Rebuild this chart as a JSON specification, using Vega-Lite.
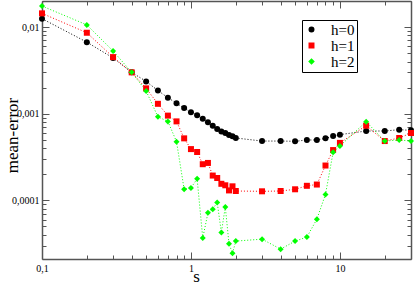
{
  "$schema": "https://vega.github.io/schema/vega-lite/v6.json",
  "width": 369,
  "height": 258,
  "autosize": "none",
  "padding": {"left": 42, "top": 1, "right": 4, "bottom": 25},
  "config": {
    "view": {"stroke": null},
    "font": "Liberation Serif",
    "axis": {
      "grid": false,
      "domainColor": "#555555",
      "domainWidth": 1.5,
      "tickColor": "#555555",
      "tickWidth": 1,
      "labelFont": "Liberation Serif",
      "labelFontSize": 10,
      "labelColor": "black",
      "titleFont": "Liberation Serif",
      "titleFontWeight": "normal",
      "titleColor": "black"
    },
    "legend": {
      "labelFont": "Liberation Serif",
      "labelFontSize": 15,
      "labelColor": "black"
    }
  },
  "data": {
    "values": [
      {"s": 0.1, "h": "h=0", "e": 0.0125},
      {"s": 0.2, "h": "h=0", "e": 0.0067},
      {"s": 0.3, "h": "h=0", "e": 0.0044},
      {"s": 0.4, "h": "h=0", "e": 0.0030},
      {"s": 0.5, "h": "h=0", "e": 0.00236},
      {"s": 0.6, "h": "h=0", "e": 0.00185},
      {"s": 0.7, "h": "h=0", "e": 0.00153},
      {"s": 0.8, "h": "h=0", "e": 0.00132},
      {"s": 0.9, "h": "h=0", "e": 0.00116},
      {"s": 1.0, "h": "h=0", "e": 0.00104},
      {"s": 1.1, "h": "h=0", "e": 0.00096},
      {"s": 1.2, "h": "h=0", "e": 0.000875},
      {"s": 1.3, "h": "h=0", "e": 0.000794},
      {"s": 1.4, "h": "h=0", "e": 0.000727},
      {"s": 1.5, "h": "h=0", "e": 0.000665},
      {"s": 1.6, "h": "h=0", "e": 0.000621},
      {"s": 1.7, "h": "h=0", "e": 0.000598},
      {"s": 1.8, "h": "h=0", "e": 0.000567},
      {"s": 1.9, "h": "h=0", "e": 0.000548},
      {"s": 2.0, "h": "h=0", "e": 0.000524},
      {"s": 3, "h": "h=0", "e": 0.000483},
      {"s": 4, "h": "h=0", "e": 0.000483},
      {"s": 5, "h": "h=0", "e": 0.00048},
      {"s": 6, "h": "h=0", "e": 0.000497},
      {"s": 7, "h": "h=0", "e": 0.000497},
      {"s": 8, "h": "h=0", "e": 0.000519},
      {"s": 9, "h": "h=0", "e": 0.000552},
      {"s": 10, "h": "h=0", "e": 0.000573},
      {"s": 15, "h": "h=0", "e": 0.000631},
      {"s": 20, "h": "h=0", "e": 0.000631},
      {"s": 25, "h": "h=0", "e": 0.000654},
      {"s": 30, "h": "h=0", "e": 0.000642},
      {"s": 0.1, "h": "h=1", "e": 0.0144},
      {"s": 0.2, "h": "h=1", "e": 0.0086},
      {"s": 0.3, "h": "h=1", "e": 0.0045},
      {"s": 0.4, "h": "h=1", "e": 0.0030},
      {"s": 0.5, "h": "h=1", "e": 0.00196},
      {"s": 0.6, "h": "h=1", "e": 0.0013},
      {"s": 0.7, "h": "h=1", "e": 0.00095},
      {"s": 0.8, "h": "h=1", "e": 0.000815},
      {"s": 0.9, "h": "h=1", "e": 0.000519},
      {"s": 1.0, "h": "h=1", "e": 0.00039},
      {"s": 1.1, "h": "h=1", "e": 0.000361},
      {"s": 1.2, "h": "h=1", "e": 0.000261},
      {"s": 1.3, "h": "h=1", "e": 0.00027},
      {"s": 1.4, "h": "h=1", "e": 0.000193},
      {"s": 1.5, "h": "h=1", "e": 0.000181},
      {"s": 1.6, "h": "h=1", "e": 0.000155},
      {"s": 1.7, "h": "h=1", "e": 0.000149},
      {"s": 1.8, "h": "h=1", "e": 0.00013},
      {"s": 1.9, "h": "h=1", "e": 0.000145},
      {"s": 2.0, "h": "h=1", "e": 0.000128},
      {"s": 3, "h": "h=1", "e": 0.000127},
      {"s": 4, "h": "h=1", "e": 0.000128},
      {"s": 5, "h": "h=1", "e": 0.000134},
      {"s": 6, "h": "h=1", "e": 0.000147},
      {"s": 7, "h": "h=1", "e": 0.000152},
      {"s": 8, "h": "h=1", "e": 0.000252},
      {"s": 9, "h": "h=1", "e": 0.00038},
      {"s": 10, "h": "h=1", "e": 0.00046},
      {"s": 15, "h": "h=1", "e": 0.000727},
      {"s": 20, "h": "h=1", "e": 0.000483},
      {"s": 25, "h": "h=1", "e": 0.000524},
      {"s": 30, "h": "h=1", "e": 0.000598},
      {"s": 0.1, "h": "h=2", "e": 0.0175},
      {"s": 0.2, "h": "h=2", "e": 0.0106},
      {"s": 0.3, "h": "h=2", "e": 0.0053},
      {"s": 0.4, "h": "h=2", "e": 0.0030},
      {"s": 0.5, "h": "h=2", "e": 0.00183},
      {"s": 0.6, "h": "h=2", "e": 0.00092},
      {"s": 0.7, "h": "h=2", "e": 0.000815},
      {"s": 0.8, "h": "h=2", "e": 0.000475},
      {"s": 0.9, "h": "h=2", "e": 0.000134},
      {"s": 1.0, "h": "h=2", "e": 0.000139},
      {"s": 1.1, "h": "h=2", "e": 0.000177},
      {"s": 1.2, "h": "h=2", "e": 0.0000366},
      {"s": 1.3, "h": "h=2", "e": 0.0000716},
      {"s": 1.4, "h": "h=2", "e": 0.0000789},
      {"s": 1.5, "h": "h=2", "e": 0.0000944},
      {"s": 1.6, "h": "h=2", "e": 0.0000426},
      {"s": 1.7, "h": "h=2", "e": 0.0000839},
      {"s": 1.8, "h": "h=2", "e": 0.0000315},
      {"s": 1.9, "h": "h=2", "e": 0.0000244},
      {"s": 2.0, "h": "h=2", "e": 0.0000338},
      {"s": 3, "h": "h=2", "e": 0.0000356},
      {"s": 4, "h": "h=2", "e": 0.0000273},
      {"s": 5, "h": "h=2", "e": 0.0000338},
      {"s": 6, "h": "h=2", "e": 0.0000376},
      {"s": 7, "h": "h=2", "e": 0.0000605},
      {"s": 8, "h": "h=2", "e": 0.000117},
      {"s": 9, "h": "h=2", "e": 0.000358},
      {"s": 10, "h": "h=2", "e": 0.000424},
      {"s": 15, "h": "h=2", "e": 0.000809},
      {"s": 20, "h": "h=2", "e": 0.000483},
      {"s": 25, "h": "h=2", "e": 0.000497},
      {"s": 30, "h": "h=2", "e": 0.000483}
    ]
  },
  "layer": [
    {
      "encoding": {
        "x": {
          "field": "s",
          "type": "quantitative",
          "scale": {"type": "log", "domain": [0.1, 30], "nice": false},
          "axis": {
            "orient": "bottom",
            "title": "s",
            "titleFontSize": 17,
            "titleX": 154,
            "titleY": 22,
            "titleBaseline": "alphabetic",
            "values": [0.1, 0.2, 0.3, 0.4, 0.5, 0.6, 0.7, 0.8, 0.9, 1, 2, 3, 4, 5, 6, 7, 8, 9, 10, 20, 30],
            "labelExpr": "abs(log(datum.value)/LN10 - round(log(datum.value)/LN10)) < 0.001 ? replace(toString(datum.value), '.', ',') : ''",
            "tickSize": {"condition": {"test": "abs(log(datum.value)/LN10 - round(log(datum.value)/LN10)) < 0.001", "value": -7}, "value": -4},
            "labelPadding": 11,
            "labelFlush": false
          }
        },
        "y": {
          "field": "e",
          "type": "quantitative",
          "scale": {"type": "log", "domain": [0.000021, 0.02], "nice": false},
          "axis": {
            "orient": "left",
            "title": "mean-error",
            "titleFontSize": 17,
            "titleX": -30,
            "titleY": 134,
            "titleBaseline": "middle",
            "values": [0.00003, 0.00004, 0.00005, 0.00006, 0.00007, 0.00008, 0.00009, 0.0001, 0.0002, 0.0003, 0.0004, 0.0005, 0.0006, 0.0007, 0.0008, 0.0009, 0.001, 0.002, 0.003, 0.004, 0.005, 0.006, 0.007, 0.008, 0.009, 0.01, 0.02],
            "labelExpr": "abs(log(datum.value)/LN10 - round(log(datum.value)/LN10)) < 0.001 ? replace(toString(datum.value), '.', ',') : ''",
            "tickSize": {"condition": {"test": "abs(log(datum.value)/LN10 - round(log(datum.value)/LN10)) < 0.001", "value": -7}, "value": -4},
            "labelPadding": 10,
            "labelFlush": false
          }
        },
        "color": {
          "field": "h",
          "type": "nominal",
          "scale": {"domain": ["h=0", "h=1", "h=2"], "range": ["#000000", "#ff0000", "#00ff00"]},
          "legend": {
            "title": null,
            "orient": "none",
            "legendX": 260,
            "legendY": 19,
            "strokeColor": "black",
            "fillColor": "white",
            "padding": 2,
            "rowPadding": 0,
            "labelOffset": 12,
            "symbolSize": 20
          }
        }
      },
      "layer": [
        {
          "mark": {"type": "line", "strokeDash": [1, 2], "strokeWidth": 1},
          "encoding": {"detail": {"field": "h"}}
        },
        {
          "mark": {"type": "point", "filled": true, "opacity": 1, "size": 36},
          "encoding": {
            "shape": {
              "field": "h",
              "type": "nominal",
              "scale": {"domain": ["h=0", "h=1", "h=2"], "range": ["circle", "square", "diamond"]},
              "legend": {
                "title": null,
                "orient": "none",
                "legendX": 260,
                "legendY": 19,
                "strokeColor": "black",
                "fillColor": "white",
                "padding": 2,
                "rowPadding": 0,
                "labelOffset": 12,
                "symbolSize": 20
              }
            }
          }
        }
      ]
    },
    {
      "mark": {"type": "point", "opacity": 0},
      "encoding": {
        "x": {
          "field": "s",
          "type": "quantitative",
          "axis": {
            "orient": "top",
            "title": null,
            "labels": false,
            "values": [0.1, 0.2, 0.3, 0.4, 0.5, 0.6, 0.7, 0.8, 0.9, 1, 2, 3, 4, 5, 6, 7, 8, 9, 10, 20, 30],
            "tickSize": {"condition": {"test": "abs(log(datum.value)/LN10 - round(log(datum.value)/LN10)) < 0.001", "value": -7}, "value": -4}
          }
        },
        "y": {
          "field": "e",
          "type": "quantitative",
          "axis": {
            "orient": "right",
            "title": null,
            "labels": false,
            "values": [0.00003, 0.00004, 0.00005, 0.00006, 0.00007, 0.00008, 0.00009, 0.0001, 0.0002, 0.0003, 0.0004, 0.0005, 0.0006, 0.0007, 0.0008, 0.0009, 0.001, 0.002, 0.003, 0.004, 0.005, 0.006, 0.007, 0.008, 0.009, 0.01, 0.02],
            "tickSize": {"condition": {"test": "abs(log(datum.value)/LN10 - round(log(datum.value)/LN10)) < 0.001", "value": -7}, "value": -4}
          }
        }
      }
    }
  ],
  "resolve": {"axis": {"x": "independent", "y": "independent"}}
}
